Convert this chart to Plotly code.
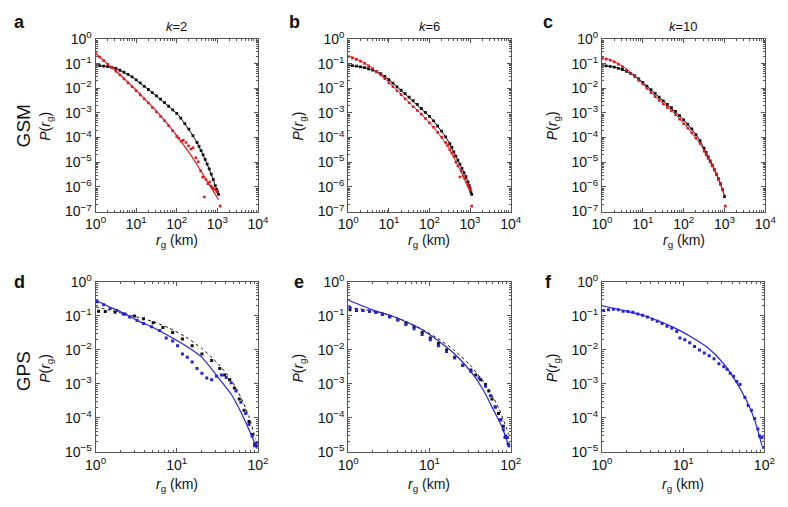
import numpy as np
import plotly.graph_objects as go

# ---------------- data (log10 values) ----------------
# GSM panels: x = log10(r_g / km), y = log10 P(r_g)
a_black_lr = [0, 0.1, 0.2, 0.3, 0.4, 0.5, 0.6, 0.7, 0.8, 0.9, 1.0, 1.1, 1.2, 1.3, 1.4, 1.5, 1.6, 1.7, 1.8, 1.9,
              2.0, 2.1, 2.2, 2.3, 2.4, 2.5, 2.55, 2.6, 2.65, 2.7, 2.75, 2.8, 2.85, 2.9, 2.95, 2.98, 3.0, 3.03]
a_black_lp = [-1.07, -1.08, -1.10, -1.12, -1.15, -1.19, -1.27, -1.35, -1.44, -1.54, -1.66, -1.78, -1.92, -2.05,
              -2.18, -2.31, -2.44, -2.58, -2.73, -2.88, -3.02, -3.21, -3.43, -3.66, -3.92, -4.20, -4.36, -4.53,
              -4.70, -4.88, -5.08, -5.27, -5.48, -5.70, -5.95, -6.10, -6.18, -6.30]
a_red_lr = [0, 0.1, 0.2, 0.3, 0.4, 0.5, 0.6, 0.7, 0.8, 0.9, 1.0, 1.1, 1.2, 1.3, 1.4, 1.5, 1.6, 1.7, 1.8, 1.9, 2.0,
            2.05, 2.11, 2.16, 2.23, 2.29, 2.35, 2.40, 2.47, 2.53, 2.59, 2.64, 2.68, 2.72, 2.77, 2.81, 2.85, 2.89,
            2.93, 2.99, 3.07]
a_red_lp = [-0.59, -0.73, -0.88, -1.03, -1.17, -1.31, -1.46, -1.62, -1.78, -1.94, -2.10, -2.27, -2.43, -2.60,
            -2.78, -2.96, -3.14, -3.32, -3.52, -3.72, -3.95, -4.02, -4.15, -4.11, -4.20, -4.33, -4.46, -4.41,
            -4.82, -4.98, -5.35, -5.61, -6.41, -5.70, -5.87, -5.80, -5.97, -6.05, -6.10, -6.19, -6.78]
a_fit_lr = [0, 0.25, 0.5, 0.75, 1.0, 1.25, 1.5, 1.75, 2.0, 2.25, 2.5, 2.75, 3.03]
a_fit_lp = [-0.59, -0.95, -1.30, -1.68, -2.08, -2.50, -2.93, -3.40, -3.92, -4.48, -5.10, -5.78, -6.52]

b_black_lr = [0, 0.1, 0.2, 0.3, 0.4, 0.5, 0.6, 0.7, 0.8, 0.9, 1.0, 1.1, 1.2, 1.3, 1.4, 1.5, 1.6, 1.7, 1.8, 1.9,
              2.0, 2.1, 2.2, 2.3, 2.4, 2.5, 2.55, 2.6, 2.65, 2.7, 2.75, 2.8, 2.85, 2.9, 2.95, 2.98, 3.0, 3.02, 3.04]
b_black_lp = [-1.07, -1.08, -1.10, -1.13, -1.16, -1.21, -1.26, -1.33, -1.41, -1.52, -1.65, -1.79, -1.94, -2.08,
              -2.22, -2.36, -2.50, -2.65, -2.82, -2.98, -3.14, -3.32, -3.53, -3.74, -3.97, -4.25, -4.40, -4.58,
              -4.75, -4.92, -5.08, -5.25, -5.42, -5.58, -5.80, -5.95, -6.05, -6.20, -6.30]
b_red_lr = [0, 0.1, 0.2, 0.3, 0.4, 0.5, 0.6, 0.7, 0.8, 0.9, 1.0, 1.1, 1.2, 1.3, 1.4, 1.5, 1.6, 1.7, 1.8, 1.9, 2.0,
            2.1, 2.2, 2.3, 2.4, 2.45, 2.5, 2.55, 2.6, 2.65, 2.7, 2.75, 2.78, 2.83, 2.87, 2.91, 2.95, 2.98, 3.01, 3.04]
b_red_lp = [-0.72, -0.77, -0.83, -0.90, -0.99, -1.09, -1.20, -1.33, -1.46, -1.61, -1.78, -1.94, -2.10, -2.26,
            -2.43, -2.59, -2.75, -2.90, -3.05, -3.22, -3.40, -3.58, -3.79, -3.98, -4.20, -4.32, -4.50, -4.62,
            -4.75, -5.00, -5.15, -5.60, -5.35, -5.55, -5.67, -5.80, -5.93, -6.05, -6.13, -6.78]
b_fit_lr = [0, 0.25, 0.5, 0.75, 1.0, 1.25, 1.5, 1.75, 2.0, 2.25, 2.5, 2.75, 3.0]
b_fit_lp = [-0.68, -0.85, -1.08, -1.40, -1.76, -2.17, -2.58, -2.97, -3.40, -3.90, -4.50, -5.30, -6.20]

c_black_lr = [0, 0.1, 0.2, 0.3, 0.4, 0.5, 0.6, 0.7, 0.8, 0.9, 1.0, 1.1, 1.2, 1.3, 1.4, 1.5, 1.6, 1.7, 1.8, 1.9,
              2.0, 2.1, 2.2, 2.3, 2.4, 2.5, 2.55, 2.6, 2.65, 2.7, 2.75, 2.8, 2.85, 2.9, 2.95, 3.0]
c_black_lp = [-1.07, -1.09, -1.11, -1.14, -1.19, -1.24, -1.31, -1.40, -1.49, -1.62, -1.76, -1.91, -2.06, -2.21,
              -2.36, -2.51, -2.65, -2.79, -2.94, -3.11, -3.28, -3.46, -3.65, -3.88, -4.12, -4.43, -4.60, -4.78,
              -4.95, -5.12, -5.30, -5.48, -5.67, -5.87, -6.10, -6.39]
c_red_lr = [0, 0.1, 0.2, 0.3, 0.4, 0.5, 0.6, 0.7, 0.8, 0.9, 1.0, 1.1, 1.2, 1.3, 1.4, 1.5, 1.6, 1.7, 1.8, 1.9, 2.0,
            2.1, 2.2, 2.3, 2.4, 2.5, 2.55, 2.6, 2.65, 2.7, 2.75, 2.8, 2.85, 2.9, 2.95, 3.02]
c_red_lp = [-0.80, -0.82, -0.86, -0.93, -1.02, -1.13, -1.26, -1.40, -1.53, -1.68, -1.83, -2.01, -2.18, -2.34,
            -2.49, -2.64, -2.78, -2.92, -3.07, -3.25, -3.44, -3.62, -3.81, -4.02, -4.24, -4.55, -4.70, -4.85,
            -5.00, -5.15, -5.32, -5.50, -5.70, -5.90, -6.10, -6.78]
c_fit_lr = [0, 0.25, 0.5, 0.75, 1.0, 1.25, 1.5, 1.75, 2.0, 2.25, 2.5, 2.75, 3.0]
c_fit_lp = [-0.75, -0.88, -1.10, -1.43, -1.83, -2.24, -2.62, -2.98, -3.42, -3.92, -4.50, -5.25, -6.35]

# GPS panels
d_black_lr = [0.036, 0.12, 0.24, 0.36, 0.48, 0.59, 0.71, 0.83, 0.95, 1.07, 1.19, 1.31, 1.43, 1.53, 1.59, 1.65,
              1.71, 1.77, 1.83, 1.89, 1.93, 1.96, 1.98]
d_black_lp = [-0.86, -0.87, -0.89, -0.94, -1.00, -1.08, -1.20, -1.34, -1.49, -1.68, -1.88, -2.12, -2.31, -2.55,
              -2.74, -2.88, -3.12, -3.45, -3.78, -4.11, -4.49, -4.77, -4.82]
d_blue_lr = [0.02, 0.10, 0.18, 0.26, 0.34, 0.42, 0.51, 0.59, 0.69, 0.79, 0.87, 0.95, 1.01, 1.07, 1.13, 1.19,
             1.25, 1.31, 1.37, 1.43, 1.49, 1.55, 1.61, 1.67, 1.73, 1.79, 1.85, 1.89, 1.93, 1.96, 1.99]
d_blue_lp = [-0.58, -0.67, -0.78, -0.84, -0.94, -1.03, -1.13, -1.22, -1.32, -1.43, -1.65, -1.74, -1.88, -2.12,
             -2.22, -2.36, -2.55, -2.69, -2.83, -2.88, -2.78, -2.74, -2.81, -2.97, -3.21, -3.54, -3.87, -4.20,
             -4.54, -4.82, -4.73]
d_dash_lr = [0, 0.16, 0.32, 0.51, 0.71, 0.91, 1.11, 1.31, 1.51, 1.67, 1.79, 1.89, 1.97]
d_dash_lp = [-0.73, -0.82, -0.92, -1.03, -1.17, -1.36, -1.62, -1.96, -2.41, -2.88, -3.40, -3.97, -4.63]
d_fit_lr = [0, 0.16, 0.32, 0.51, 0.71, 0.91, 1.11, 1.31, 1.51, 1.67, 1.79, 1.89, 1.99]
d_fit_lp = [-0.54, -0.72, -0.89, -1.13, -1.34, -1.60, -1.88, -2.22, -2.81, -3.30, -3.83, -4.35, -4.91]

e_black_lr = [0.02, 0.10, 0.18, 0.26, 0.34, 0.42, 0.51, 0.61, 0.71, 0.81, 0.91, 1.01, 1.11, 1.21, 1.31, 1.41,
              1.51, 1.57, 1.63, 1.69, 1.73, 1.77, 1.81, 1.85, 1.88, 1.91, 1.94, 1.97]
e_black_lp = [-0.82, -0.84, -0.84, -0.86, -0.89, -0.94, -1.01, -1.11, -1.22, -1.32, -1.49, -1.65, -1.81, -2.00,
              -2.22, -2.45, -2.59, -2.74, -2.88, -3.02, -3.21, -3.45, -3.68, -3.87, -4.06, -4.25, -4.54, -4.77]
e_blue_lr = [0.02, 0.10, 0.18, 0.26, 0.34, 0.42, 0.51, 0.61, 0.71, 0.81, 0.91, 1.01, 1.11, 1.21, 1.31, 1.41,
             1.51, 1.61, 1.69, 1.75, 1.81, 1.87, 1.91, 1.93, 1.96, 1.98]
e_blue_lp = [-0.75, -0.82, -0.84, -0.86, -0.90, -0.96, -1.03, -1.12, -1.25, -1.38, -1.55, -1.70, -1.88, -2.05,
             -2.24, -2.45, -2.64, -2.83, -3.07, -3.35, -3.68, -4.06, -4.35, -4.58, -4.58, -4.82]
e_dash_lr = [0, 0.3, 0.5, 0.7, 0.9, 1.1, 1.3, 1.5, 1.7, 1.85, 1.98]
e_dash_lp = [-0.75, -0.85, -0.97, -1.15, -1.38, -1.66, -2.00, -2.45, -3.05, -3.70, -4.50]
e_fit_lr = [0, 0.32, 0.51, 0.71, 0.91, 1.11, 1.31, 1.51, 1.67, 1.79, 1.89, 1.98]
e_fit_lp = [-0.54, -0.84, -0.98, -1.17, -1.41, -1.74, -2.12, -2.64, -3.21, -3.78, -4.25, -4.87]

f_blue_lr = [0.02, 0.08, 0.14, 0.20, 0.26, 0.32, 0.38, 0.44, 0.50, 0.56, 0.62, 0.68, 0.74, 0.80, 0.86, 0.92,
             0.96, 1.02, 1.08, 1.14, 1.20, 1.26, 1.32, 1.38, 1.44, 1.50, 1.54, 1.58, 1.62, 1.66, 1.70, 1.76,
             1.80, 1.84, 1.88, 1.92, 1.94, 1.97, 1.99]
f_blue_lp = [-0.84, -0.82, -0.80, -0.82, -0.86, -0.87, -0.89, -0.94, -0.98, -1.03, -1.10, -1.16, -1.22, -1.30,
             -1.36, -1.46, -1.65, -1.70, -1.79, -1.90, -2.00, -2.09, -2.17, -2.26, -2.41, -2.50, -2.57, -2.69,
             -2.78, -2.93, -3.02, -3.40, -3.64, -3.78, -4.02, -4.33, -4.54, -4.58, -4.87]
f_fit_lr = [0, 0.30, 0.50, 0.70, 0.90, 1.10, 1.30, 1.50, 1.66, 1.78, 1.88, 1.97]
f_fit_lp = [-0.70, -0.86, -0.98, -1.15, -1.36, -1.62, -1.93, -2.41, -2.97, -3.49, -4.06, -4.82]

# tick labels
gsm_x_ticks = [1, 10, 100, 1000, 10000]
gsm_x_labels = ["10<sup>0</sup>", "10<sup>1</sup>", "10<sup>2</sup>", "10<sup>3</sup>", "10<sup>4</sup>"]
gsm_y_ticks = [1, 1e-1, 1e-2, 1e-3, 1e-4, 1e-5, 1e-6, 1e-7]
gsm_y_labels = ["10<sup>0</sup>", "10<sup>−1</sup>", "10<sup>−2</sup>", "10<sup>−3</sup>",
                "10<sup>−4</sup>", "10<sup>−5</sup>", "10<sup>−6</sup>", "10<sup>−7</sup>"]
gps_x_ticks = [1, 10, 100]
gps_x_labels = ["10<sup>0</sup>", "10<sup>1</sup>", "10<sup>2</sup>"]
gps_y_ticks = [1, 1e-1, 1e-2, 1e-3, 1e-4, 1e-5]
gps_y_labels = ["10<sup>0</sup>", "10<sup>−1</sup>", "10<sup>−2</sup>", "10<sup>−3</sup>",
                "10<sup>−4</sup>", "10<sup>−5</sup>"]
col_titles = ["<i>k</i>=2", "<i>k</i>=6", "<i>k</i>=10"]
row_titles = ["GSM", "GPS"]
panel_letters = ["a", "b", "c", "d", "e", "f"]

# ---------------- figure ----------------
W, H = 788, 507
FONT = "Liberation Sans, Arial, Helvetica, sans-serif"
RED = "#e3171c"
BLUE = "#2424d6"
BLACK = "#111111"
AX = "#555555"


def fx(p):
    return p / W


def fy(p):
    return 1 - p / H


fig = go.Figure()


def to_lin(v):
    return (10 ** np.array(v)).tolist()


def dots(i, lr, lp, color, size=2.8, join=False):
    fig.add_trace(go.Scatter(x=to_lin(lr), y=to_lin(lp), mode="lines+markers" if join else "markers",
                             line=dict(color=color, width=1.0),
                             marker=dict(color=color, size=size, symbol="square", line=dict(width=0)),
                             xaxis=f"x{i}", yaxis=f"y{i}", showlegend=False, hoverinfo="skip"))


def line(i, lr, lp, color, dash="solid", width=1.2):
    fig.add_trace(go.Scatter(x=to_lin(lr), y=to_lin(lp), mode="lines",
                             line=dict(color=color, width=width, dash=dash, shape="spline", smoothing=0.6),
                             xaxis=f"x{i}", yaxis=f"y{i}", showlegend=False, hoverinfo="skip"))


# a
dots(1, a_black_lr, a_black_lp, BLACK, join=True)
dots(1, a_red_lr, a_red_lp, RED, 2.6)
line(1, a_fit_lr, a_fit_lp, RED)
# b
dots(2, b_black_lr, b_black_lp, BLACK, join=True)
line(2, b_fit_lr, b_fit_lp, RED, width=1.0)
dots(2, b_red_lr, b_red_lp, RED, 2.6)
# c
dots(3, c_black_lr, c_black_lp, BLACK, join=True)
line(3, c_fit_lr, c_fit_lp, RED, width=1.0)
dots(3, c_red_lr, c_red_lp, RED, 2.6)
# d
dots(4, d_black_lr, d_black_lp, BLACK, 3.0)
line(4, d_dash_lr, d_dash_lp, BLACK, dash="3px,3px", width=1.0)
dots(4, d_blue_lr, d_blue_lp, BLUE, 3.0)
line(4, d_fit_lr, d_fit_lp, BLUE)
# e
dots(5, e_black_lr, e_black_lp, BLACK, 3.0)
line(5, e_dash_lr, e_dash_lp, BLACK, dash="3px,3px", width=1.0)
dots(5, e_blue_lr, e_blue_lp, BLUE, 3.0)
line(5, e_fit_lr, e_fit_lp, BLUE)
# f
dots(6, f_blue_lr, f_blue_lp, BLUE, 3.0)
line(6, f_fit_lr, f_fit_lp, BLUE)

cols_top = [(87, 254), (347, 514), (608, 776)]
cols_bot = [(87, 254), (347, 514), (608, 775)]
row_top = (30, 209)
row_bot = (282, 458)


def minor_vals(d0, d1):
    return [m * 10 ** k for k in range(d0, d1) for m in range(2, 10)]


layout = dict(width=W, height=H, margin=dict(l=0, r=0, t=0, b=0),
              paper_bgcolor="white", plot_bgcolor="white",
              font=dict(family=FONT, size=14, color="#111"), showlegend=False)

for i in range(6):
    top = i < 3
    c = i % 3
    x0, x1 = (cols_top if top else cols_bot)[c]
    y0, y1 = row_top if top else row_bot
    n = i + 1
    common = dict(showline=True, linecolor=AX, linewidth=1, mirror="ticks", ticks="inside",
                  ticklen=4, tickcolor=AX, showgrid=False, zeroline=False,
                  tickfont=dict(family=FONT, size=14, color="#111"))
    xa = dict(common, type="log", domain=[fx(x0), fx(x1)], anchor=f"y{n}",
              range=[0, 4] if top else [0, 2],
              tickvals=gsm_x_ticks if top else gps_x_ticks,
              ticktext=gsm_x_labels if top else gps_x_labels,
              minor=dict(ticks="inside", ticklen=2, tickcolor=AX, showgrid=False,
                         tickvals=minor_vals(0, 4 if top else 2)))
    ya = dict(common, type="log", domain=[fy(y1), fy(y0)], anchor=f"x{n}",
              range=[-7, 0] if top else [-5, 0],
              tickvals=gsm_y_ticks if top else gps_y_ticks,
              ticktext=gsm_y_labels if top else gps_y_labels,
              minor=dict(ticks="inside", ticklen=2, tickcolor=AX, showgrid=False,
                         tickvals=minor_vals(-7 if top else -5, 0)))
    layout[f"xaxis{n}" if n > 1 else "xaxis"] = xa
    layout[f"yaxis{n}" if n > 1 else "yaxis"] = ya

ann = []
# column titles
for c, t in enumerate(col_titles):
    x0, x1 = cols_top[c]
    ann.append(dict(text=t, x=fx((x0 + x1) / 2), y=fy(17), xanchor="center", yanchor="middle",
                    font=dict(size=13)))
# row titles
ann.append(dict(text=row_titles[0], x=fx(13), y=fy(120), textangle=-90, xanchor="center",
                yanchor="middle", font=dict(size=19)))
ann.append(dict(text=row_titles[1], x=fx(13), y=fy(375), textangle=-90, xanchor="center",
                yanchor="middle", font=dict(size=19)))
# panel letters
letter_pos = [(9, 12), (292, 12), (552, 12), (9, 282), (296, 282), (553, 282)]
for L, (lx, ly) in zip(panel_letters, letter_pos):
    ann.append(dict(text=f"<b>{L}</b>", x=fx(lx), y=fy(ly), xanchor="center", yanchor="middle",
                    font=dict(size=18)))
# axis titles
for i in range(6):
    top = i < 3
    c = i % 3
    x0, x1 = (cols_top if top else cols_bot)[c]
    ann.append(dict(text="<i>r</i><sub>g</sub> (km)", x=fx((x0 + x1) / 2), y=fy(240 if top else 493),
                    xanchor="center", yanchor="middle", font=dict(size=14)))
    ytxt = "<i>P</i>(<i>r</i><sub>g</sub>)"
    ann.append(dict(text=ytxt, x=fx(x0 - 51), y=fy(120 if top else 371), textangle=-90,
                    xanchor="center", yanchor="middle", font=dict(size=14)))

for a in ann:
    a.update(xref="paper", yref="paper", showarrow=False)
layout["annotations"] = ann

fig.update_layout(**layout)
fig.write_html("out.html", config={"displayModeBar": False, "staticPlot": True},
               post_script="document.body.style.margin='0';document.body.style.overflow='hidden';")
